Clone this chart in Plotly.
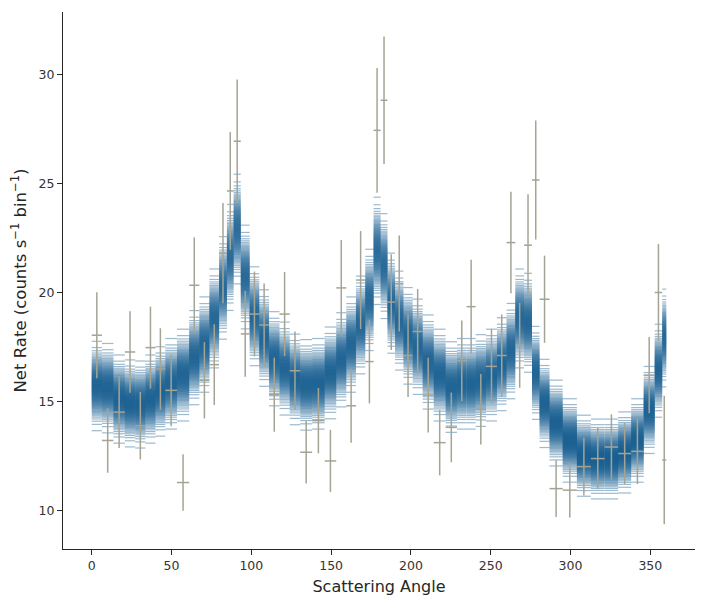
import plotly.graph_objects as go
from statistics import NormalDist

# ---- data ----
bin_edges = [0, 6.4, 13.6, 20.75, 27.25, 33.65, 39.95, 46.1, 53.4, 61.05, 67.45,
             73.75, 79.8, 84.7, 88.9, 93.4, 98.95, 104.95, 111.1, 117.65, 124.05,
             130.65, 138.1, 145.95, 153.2, 159.5, 165.55, 171.4, 176.6, 181.0, 185.3,
             190.05, 195.3, 201.1, 207.35, 214.3, 221.75, 228.85, 234.9, 240.55, 247.05,
             253.9, 259.9, 265.4, 270.9, 275.85, 280.6, 286.85, 295.1, 304.0, 312.75,
             321.4, 329.85, 338.0, 345.85, 352.75, 357.45, 360]

rate = [18.03, 13.2, 14.5, 17.26, 13.88, 17.46, 16.48, 15.5, 11.27, 20.32,
        15.96, 16.68, 21.8, 24.65, 26.93, 18.09, 19.0, 18.5, 15.3, 19.0,
        16.4, 12.66, 14.11, 12.26, 20.2, 14.79, 20.56, 16.82, 27.43, 28.81,
        19.55, 20.4, 17.1, 18.2, 15.28, 13.1, 13.8, 16.86, 19.34, 14.63,
        16.6, 17.1, 22.28, 17.57, 22.16, 25.15, 19.68, 10.99, 10.92, 12.0,
        12.37, 12.9, 12.6, 12.7, 16.2, 19.99, 12.3]

rate_err = [1.97, 1.48, 1.65, 1.87, 1.55, 1.88, 1.87, 1.65, 1.3, 2.2,
            1.75, 1.85, 2.3, 2.7, 2.83, 1.97, 1.95, 1.9, 1.7, 1.93,
            1.8, 1.43, 1.5, 1.43, 2.2, 1.7, 2.25, 1.92, 2.86, 2.93,
            2.2, 2.2, 1.9, 1.95, 1.72, 1.5, 1.6, 1.85, 2.15, 1.62,
            1.72, 1.88, 2.33, 1.95, 2.34, 2.73, 2.0, 1.3, 1.26, 1.32,
            1.4, 1.5, 1.4, 1.5, 1.75, 2.22, 2.95]

model_median = [15.7, 15.6, 15.1, 14.9, 14.85, 15.1, 15.45, 15.8, 16.2, 17.0,
                17.6, 18.8, 20.2, 21.6, 22.9, 20.7, 18.9, 17.9, 16.95, 16.5,
                16.0, 15.75, 15.8, 16.3, 16.9, 17.6, 18.5, 19.65, 21.9, 21.2,
                19.5, 18.7, 18.0, 17.5, 16.8, 16.2, 15.65, 15.8, 15.8, 15.95,
                16.2, 16.7, 17.3, 18.8, 18.6, 16.3, 14.9, 14.0, 13.2, 12.5,
                12.35, 12.35, 12.65, 13.2, 14.6, 16.4, 17.9]

model_sigma = [0.75, 0.75, 0.74, 0.73, 0.73, 0.74, 0.75, 0.76, 0.77, 0.79,
               0.8, 0.83, 0.86, 0.89, 0.92, 0.87, 0.83, 0.81, 0.79, 0.78,
               0.76, 0.76, 0.76, 0.77, 0.79, 0.8, 0.82, 0.85, 0.9, 0.88,
               0.84, 0.83, 0.81, 0.8, 0.79, 0.77, 0.76, 0.76, 0.76, 0.77,
               0.77, 0.78, 0.8, 0.83, 0.83, 0.78, 0.74, 0.72, 0.7, 0.68,
               0.67, 0.67, 0.68, 0.7, 0.73, 0.78, 0.82]

x_ticks = [0, 50, 100, 150, 200, 250, 300, 350]
y_ticks = [10, 15, 20, 25, 30]

# ---- derived ----
lo_edges = bin_edges[:-1]
hi_edges = bin_edges[1:]
centers = [(a + b) / 2 for a, b in zip(lo_edges, hi_edges)]
half_w = [(b - a) / 2 for a, b in zip(lo_edges, hi_edges)]

fig = go.Figure()

# model posterior band drawn as stacked per-bin horizontal segments
n_lines = 160
nd = NormalDist()
band_color = "rgb(8,84,138)"
for k in range(n_lines):
    z = nd.inv_cdf((k + 0.5) / n_lines)
    xs, ys = [], []
    for lo, hi, m, s in zip(lo_edges, hi_edges, model_median, model_sigma):
        v = m + z * s
        xs += [lo, hi, None]
        ys += [v, v, None]
    fig.add_trace(go.Scatter(x=xs, y=ys, mode="lines",
                             line=dict(color=band_color, width=1.2),
                             opacity=0.4, hoverinfo="skip", showlegend=False))

err_color = "#a4a494"
fig.add_trace(go.Scatter(
    x=centers, y=rate, mode="markers",
    marker=dict(size=1, color="rgba(0,0,0,0)"),
    error_y=dict(type="data", array=rate_err, color=err_color, thickness=1.5, width=0),
    error_x=dict(type="data", array=half_w, color=err_color, thickness=1.5, width=0),
    showlegend=False, hoverinfo="skip"))

axis_color = "#262626"
font_family = "DejaVu Sans"
# the page body adds an 8px margin, so the figure is sized to fit inside it
fig.update_layout(
    width=690, height=591,
    margin=dict(l=55, r=3, t=4, b=50),
    plot_bgcolor="white", paper_bgcolor="white",
    font=dict(family=font_family, color=axis_color, size=12),
    showlegend=False,
)
fig.update_xaxes(
    range=[-18, 378], tickvals=x_ticks, showgrid=False, zeroline=False,
    showline=True, linecolor=axis_color, linewidth=1.25, automargin=False,
    ticks="outside", ticklen=5, tickwidth=1.25, tickcolor=axis_color,
    tickfont=dict(size=12.5, color="#333333"),
    title=dict(text="Scattering Angle", font=dict(size=16, color=axis_color), standoff=8),
)
fig.update_yaxes(
    range=[8.22, 32.86], tickvals=y_ticks, showgrid=False, zeroline=False,
    showline=True, linecolor=axis_color, linewidth=1.25, automargin=False,
    ticks="outside", ticklen=5, tickwidth=1.25, tickcolor=axis_color,
    tickfont=dict(size=12.5, color="#333333"),
    title=dict(text="Net Rate (counts s<sup>\u22121</sup> bin<sup>\u22121</sup>)",
               font=dict(size=16.5, color=axis_color), standoff=8),
)

fig.write_html("out.html")
